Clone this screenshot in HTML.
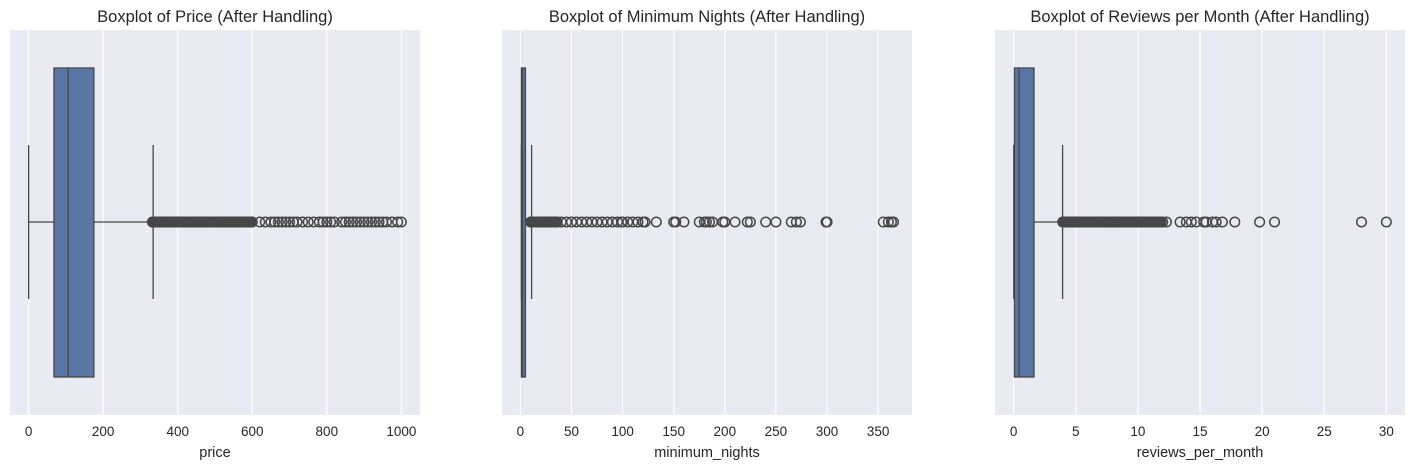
<!DOCTYPE html>
<html><head><meta charset="utf-8"><style>
body{margin:0;background:#fff;font-family:"Liberation Sans",sans-serif}
svg text{font-family:"Liberation Sans",sans-serif;fill:#262626}
</style></head><body>
<svg id="chart" width="1415" height="468" xmlns="http://www.w3.org/2000/svg"></svg>
<script>
// Panel 1: price
const priceStats = [0, 68, 106, 175, 334]; // lo whisker, q1, median, q3, hi whisker
const priceTicks = [0, 200, 400, 600, 800, 1000];
const priceOutliers = [332,334,336,338,340,342,344,346,348,350,352,354,356,358,360,362,364,366,368,370,372,374,376,378,380,382,384,386,388,390,392,394,396,398,400,402,404,406,408,410,412,414,416,418,420,422,424,426,428,430,432,434,436,438,440,442,444,446,448,450,452,454,456,458,460,462,464,466,468,470,472,474,476,478,480,482,484,486,488,490,492,494,496,498,500,503,506,509,512,515,518,521,524,527,530,533,536,539,542,545,548,551,554,557,560,563,566,569,572,575,578,581,584,587,590,593,596,600,620,635,650,660,670,680,690,700,710,720,735,750,765,780,790,800,810,820,840,850,860,870,880,890,900,910,920,930,940,950,960,975,990,1000];
// Panel 2: minimum_nights
const nightsStats = [1, 1, 2, 5, 11];
const nightsTicks = [0, 50, 100, 150, 200, 250, 300, 350];
const nightsOutliers = [10,10.5,11,11.5,12,12.5,13,13.5,14,14.5,15,15.5,16,16.5,17,17.5,18,18.5,19,19.5,20,20.5,21,21.5,22,22.5,23,23.5,24,24.5,25,25.5,26,26.5,27,27.5,28,28.5,29,29.5,30,31,32,33,34,35,36,40,45,50,55,60,65,70,75,80,85,90,95,99,100,105,110,115,120,122,133,150,152,160,175,180,182,185,188,198,200,210,222,225,240,250,265,270,274,299,300,355,360,363,365];
// Panel 3: reviews_per_month
const reviewsStats = [0.01, 0.06, 0.43, 1.64, 3.94];
const reviewsTicks = [0, 5, 10, 15, 20, 25, 30];
const reviewsOutliers = [3.95,4.05,4.15,4.25,4.35,4.45,4.55,4.65,4.75,4.85,4.95,5.05,5.15,5.25,5.35,5.45,5.55,5.65,5.75,5.85,5.95,6.05,6.15,6.25,6.35,6.45,6.55,6.65,6.75,6.85,6.95,7.05,7.15,7.25,7.35,7.45,7.55,7.65,7.75,7.85,7.95,8.05,8.15,8.25,8.35,8.45,8.55,8.65,8.75,8.85,8.95,9.05,9.15,9.25,9.35,9.45,9.55,9.65,9.75,9.85,9.95,10.05,10.15,10.25,10.35,10.45,10.55,10.65,10.75,10.85,10.95,11.05,11.15,11.25,11.35,11.45,11.55,11.65,11.75,11.85,12.0,12.3,13.4,13.9,14.3,14.7,15.3,15.5,16.0,16.3,16.8,17.8,19.8,21.0,28.0,30.0];

const NS = "http://www.w3.org/2000/svg";
const svgEl = document.getElementById('chart');
function mk(tag, attrs, parent){const e=document.createElementNS(NS,tag);for(const k in attrs)e.setAttribute(k,attrs[k]);(parent||svgEl).appendChild(e);return e;}

const panels = [
 {key:'price', title:'Boxplot of Price (After Handling)', xlabel:'price', stats:priceStats, ticks:priceTicks, outl:priceOutliers, left:10, right:420, dmin:-50, dmax:1050},
 {key:'nights', title:'Boxplot of Minimum Nights (After Handling)', xlabel:'minimum_nights', stats:nightsStats, ticks:nightsTicks, outl:nightsOutliers, left:502, right:912, dmin:-17.95, dmax:383.1},
 {key:'reviews', title:'Boxplot of Reviews per Month (After Handling)', xlabel:'reviews_per_month', stats:reviewsStats, ticks:reviewsTicks, outl:reviewsOutliers, left:995, right:1405, dmin:-1.5, dmax:31.5}
];
const plotTop=30, plotBottom=415, cy=222, boxTop=68, boxBot=377, whTop=145, whBot=299;

panels.forEach(p=>{
  const g = mk('g',{});
  
  
  const x = v => p.left + (v - p.dmin)/(p.dmax - p.dmin)*(p.right - p.left);
  const bg = mk('rect',{x:p.left,y:plotTop,width:p.right-p.left,height:plotBottom-plotTop,fill:'#eaeaf2'},g);
  
  
  p.ticks.forEach(t=>{
    const gl = mk('line',{x1:x(t),x2:x(t),y1:plotTop,y2:plotBottom,stroke:'#fff','stroke-width':1.1},g);
    
    
    const tl = mk('text',{x:x(t),y:436,'text-anchor':'middle','font-size':13.5},g);
    tl.textContent = t;
    
    
  });
  const s = p.stats;
  const c = '#474747';
  const w1 = mk('line',{x1:x(s[0]),x2:x(s[1]),y1:cy,y2:cy,stroke:c,'stroke-width':1.3},g);
  
  
  const w2 = mk('line',{x1:x(s[3]),x2:x(s[4]),y1:cy,y2:cy,stroke:c,'stroke-width':1.3},g);
  
  
  const c1 = mk('line',{x1:x(s[0]),x2:x(s[0]),y1:whTop,y2:whBot,stroke:c,'stroke-width':1.3},g);
  
  
  const c2 = mk('line',{x1:x(s[4]),x2:x(s[4]),y1:whTop,y2:whBot,stroke:c,'stroke-width':1.3},g);
  
  
  const box = mk('rect',{x:x(s[1]),y:boxTop,width:Math.max(1,x(s[3])-x(s[1])),height:boxBot-boxTop,fill:'#5875a4',stroke:c,'stroke-width':1.3},g);
  
  
  const med = mk('line',{x1:x(s[2]),x2:x(s[2]),y1:boxTop,y2:boxBot,stroke:c,'stroke-width':1.3},g);
  
  
  p.outl.forEach(v=>{
    const o = mk('circle',{cx:x(v),cy:cy,r:4.8,fill:'none',stroke:'#474747','stroke-width':1.5},g);
    
    
  });
  const tt = mk('text',{x:(p.left+p.right)/2,y:22,'text-anchor':'middle','font-size':16.5},g);
  tt.textContent = p.title;
  
  
  const xl = mk('text',{x:(p.left+p.right)/2,y:457,'text-anchor':'middle','font-size':14.5},g);
  xl.textContent = p.xlabel;
  
  
});
</script>
</body></html>
